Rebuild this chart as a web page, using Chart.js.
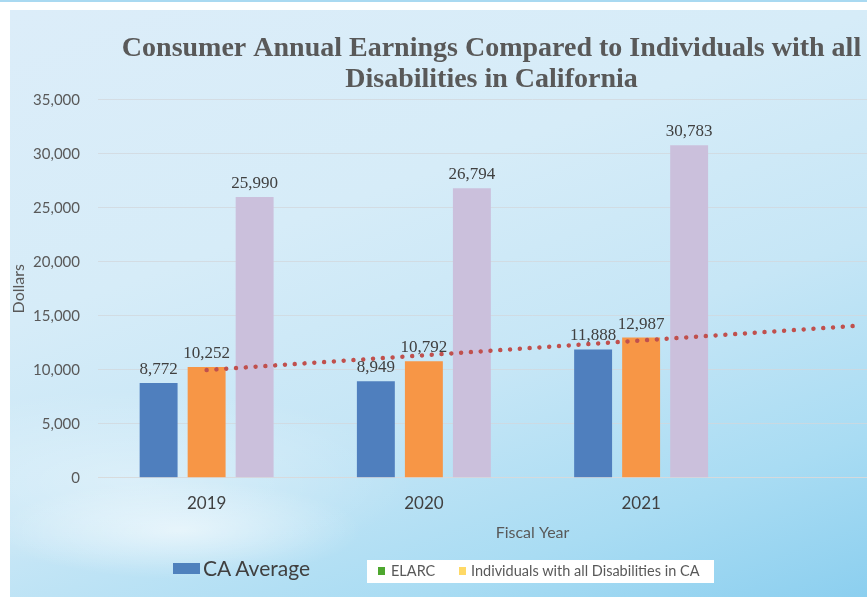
<!DOCTYPE html>
<html>
<head>
<meta charset="utf-8">
<script src="https://cdn.jsdelivr.net/npm/chart.js@4.4.0/dist/chart.umd.min.js"></script>
<style>
  html, body { margin: 0; padding: 0; width: 867px; height: 597px; overflow: hidden; background: #ffffff; }
  #topband { position: absolute; left: 0; top: 0; width: 867px; height: 2px; background: #a9d9f1; }
  #panel {
    position: absolute; left: 10px; top: 10px; width: 857px; height: 587px;
    background:
      radial-gradient(ellipse 260px 70px at 170px 520px, rgba(255,255,255,0.55), rgba(255,255,255,0) 70%),
      radial-gradient(ellipse 380px 120px at 120px 470px, rgba(255,255,255,0.35), rgba(255,255,255,0) 75%),
      linear-gradient(160deg, #dcedf9 0%, #d6ecf8 35%, #c6e6f6 60%, #a9dcf3 82%, #8ccfef 100%);
  }
  #wrap { position: absolute; left: 0; top: 0; width: 983px; height: 597px; }
  #legend { position: absolute; left: 0; top: 0; width: 867px; height: 597px; pointer-events: none; font-family: Lato, "Noto Sans", sans-serif; }
  .sw { position: absolute; }
  .lt { position: absolute; white-space: nowrap; color: #404040; }
</style>
</head>
<body>
<div id="topband"></div>
<div id="panel"></div>
<div id="wrap"><canvas id="c" width="983" height="597" style="width:983px;height:597px"></canvas></div>
<div id="legend">
  <div class="sw" style="left:173px;top:563px;width:27px;height:11px;background:#4f81bd"></div>
  <div class="lt" style="left:203px;top:556px;font-size:21px;line-height:24px;">CA Average</div>
  <div style="position:absolute;left:367px;top:560px;width:347px;height:23px;background:#ffffff;"></div>
  <div class="sw" style="left:378px;top:567px;width:7px;height:8px;background:#4ea72e"></div>
  <div class="lt" style="left:391px;top:562px;font-size:14.5px;line-height:18px;color:#595959;">ELARC</div>
  <div class="sw" style="left:459px;top:567px;width:7px;height:8px;background:#ffd966"></div>
  <div class="lt" style="left:471px;top:562px;font-size:14.5px;line-height:18px;color:#595959;">Individuals with all Disabilities in CA</div>
</div>
<script>
const categories = ['2019', '2020', '2021', ''];
const caAverage = [8772, 8949, 11888, null];
const elarc = [10252, 10792, 12987, null];
const allDisabilitiesCA = [25990, 26794, 30783, null];
// Linear trendline of the orange series (start at 2019, forecast end one period after 2021)
const trendline = [9976, null, null, 14080];
const yTicks = { min: 0, max: 35000, step: 5000 };

const valueLabels = {
  id: 'valueLabels',
  afterDatasetsDraw(chart) {
    const ctx = chart.ctx;
    ctx.save();
    ctx.font = '17px "Liberation Serif", "Times New Roman", serif';
    ctx.fillStyle = '#404040';
    ctx.textAlign = 'center';
    ctx.textBaseline = 'alphabetic';
    chart.data.datasets.forEach((ds, i) => {
      if (ds.type === 'line') return;
      const meta = chart.getDatasetMeta(i);
      meta.data.forEach((bar, j) => {
        const v = ds.data[j];
        if (v == null) return;
        ctx.fillText(v.toLocaleString('en-US'), bar.x, bar.y - 9);
      });
    });
    ctx.restore();
  }
};

new Chart(document.getElementById('c'), {
  data: {
    labels: categories,
    datasets: [
      { type: 'line', label: 'Trend', data: trendline, spanGaps: true, borderColor: '#c0504d',
        borderWidth: 4.5, borderDash: [0.01, 9.8], borderCapStyle: 'round', pointRadius: 0, fill: false, order: 0 },
      { type: 'bar', label: 'CA Average', data: caAverage, backgroundColor: '#4f7fbe', order: 1 },
      { type: 'bar', label: 'ELARC', data: elarc, backgroundColor: '#f79646', order: 1 },
      { type: 'bar', label: 'Individuals with all Disabilities in CA', data: allDisabilitiesCA, backgroundColor: '#cbc0dc', order: 1 }
    ]
  },
  options: {
    responsive: false,
    animation: false,
    layout: { padding: { left: 16, right: 16, top: 8, bottom: 55 } },
    datasets: { bar: { categoryPercentage: 0.663, barPercentage: 0.79 } },
    plugins: {
      legend: { display: false },
      tooltip: { enabled: false },
      title: {
        display: true,
        text: ['Consumer Annual Earnings Compared to Individuals with all', 'Disabilities in California'],
        color: '#595959',
        font: { family: '"Liberation Serif", "Times New Roman", serif', size: 28, weight: 'bold', lineHeight: 1.12 },
        padding: { top: 25, bottom: 4 }
      }
    },
    scales: {
      x: {
        grid: { display: false, drawTicks: false },
        border: { display: true, color: 'rgba(217,217,217,0.8)', width: 1 },
        ticks: { color: '#404040', font: { family: 'Lato, "Noto Sans", sans-serif', size: 17, lineHeight: 1.0 }, padding: 17 },
        title: { display: true, text: 'Fiscal Year', color: '#595959', font: { family: 'Lato, "Noto Sans", sans-serif', size: 16 }, padding: { top: -6, bottom: 0 } }
      },
      y: {
        min: yTicks.min, max: yTicks.max,
        afterFit(scale) { scale.width = 82; },
        grid: { color: 'rgba(210,215,220,0.75)', drawTicks: false },
        border: { display: false },
        ticks: { stepSize: yTicks.step, color: '#595959', padding: 18,
          font: { family: 'Lato, "Noto Sans", sans-serif', size: 15 },
          callback: v => v.toLocaleString('en-US') },
        title: { display: true, text: 'Dollars', color: '#595959', font: { family: 'Lato, "Noto Sans", sans-serif', size: 16 }, padding: { top: -7, bottom: 4 } }
      }
    }
  },
  plugins: [valueLabels]
});
</script>
</body>
</html>
